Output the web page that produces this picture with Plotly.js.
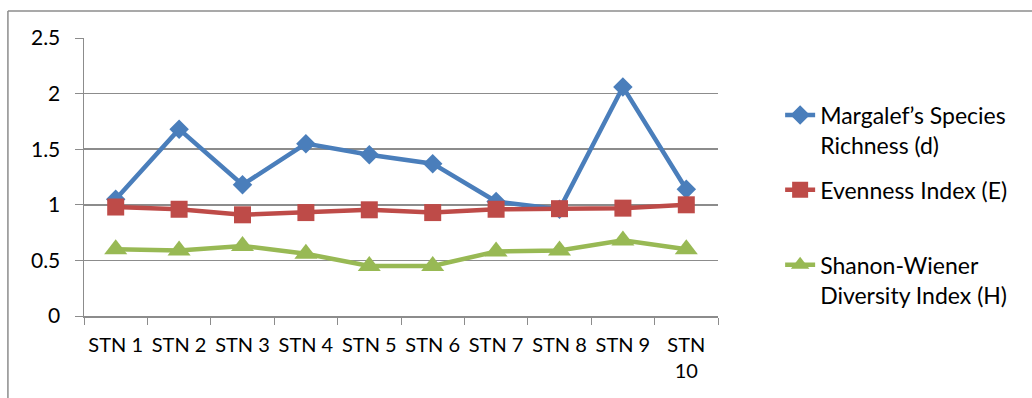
<!DOCTYPE html>
<html>
<head>
<meta charset="utf-8">
<script src="https://cdn.plot.ly/plotly-3.0.1.min.js"></script>
<style>
  html, body { margin: 0; padding: 0; background: #fff; }
  #chart { width: 1032px; height: 398px; }
</style>
</head>
<body>
<div id="chart"></div>
<script>
// Station labels along the x axis
const stations = ['STN 1', 'STN 2', 'STN 3', 'STN 4', 'STN 5', 'STN 6', 'STN 7', 'STN 8', 'STN 9', 'STN 10'];
const stationLabels = ['STN 1', 'STN 2', 'STN 3', 'STN 4', 'STN 5', 'STN 6', 'STN 7', 'STN 8', 'STN 9', 'STN<br>10'];

// Diversity indices per station
const margalef = [1.05, 1.68, 1.18, 1.55, 1.45, 1.37, 1.03, 0.96, 2.06, 1.14];
const evenness = [0.98, 0.96, 0.91, 0.93, 0.955, 0.93, 0.96, 0.965, 0.97, 1.0];
const shannon  = [0.60, 0.59, 0.63, 0.56, 0.45, 0.45, 0.58, 0.59, 0.68, 0.60];

const yTicks = [0, 0.5, 1, 1.5, 2, 2.5];

const FONT = 'Lato, "Open Sans", sans-serif';
const GREY = '#8c8c8c';

const traces = [
  {
    x: stations, y: margalef, name: "Margalef’s Species<br>Richness (d)",
    type: 'scatter', mode: 'lines+markers', legendgroup: 'a',
    line: { color: '#4A7EBB', width: 4.5 },
    marker: { symbol: 'diamond', size: 15, color: '#4A7EBB' }
  },
  {
    x: stations, y: evenness, name: 'Evenness Index (E)<br> ',
    type: 'scatter', mode: 'lines+markers', legendgroup: 'b',
    line: { color: '#BE4B48', width: 4.5 },
    marker: { symbol: 'square', size: 17, color: '#BE4B48' }
  },
  {
    x: stations, y: shannon, name: 'Shanon-Wiener<br>Diversity Index (H)',
    type: 'scatter', mode: 'lines+markers', legendgroup: 'c',
    line: { color: '#98B954', width: 4.5 },
    marker: { symbol: 'triangle-up', size: 20, color: '#98B954' }
  }
];

const layout = {
  width: 1032, height: 398,
  margin: { l: 84, r: 314, t: 38, b: 82 },
  paper_bgcolor: '#fff', plot_bgcolor: '#fff',
  font: { family: FONT, size: 20, color: '#000' },
  showlegend: true,
  legend: {
    x: 1.098, y: 0.80, xanchor: 'left', yanchor: 'top',
    valign: 'top', tracegroupgap: 12,
    font: { family: FONT, size: 23, color: '#000' },
    bgcolor: 'rgba(0,0,0,0)'
  },
  xaxis: {
    type: 'category', range: [-0.5, 9.5],
    tickmode: 'array', tickvals: stations, ticktext: stationLabels,
    tickson: 'boundaries', ticks: 'outside', ticklen: 7, tickcolor: GREY,
    showline: true, linecolor: GREY, linewidth: 1.5, tickangle: 0,
    showgrid: false, zeroline: false, ticklabelstandoff: 10,
    tickfont: { family: FONT, size: 20 }
  },
  yaxis: {
    range: [0, 2.5], tickmode: 'array', tickvals: yTicks,
    ticks: 'outside', ticklen: 8, tickcolor: GREY,
    showline: true, linecolor: GREY, linewidth: 1.5,
    showgrid: true, gridcolor: GREY, gridwidth: 1.5,
    zeroline: false, ticklabelstandoff: 10,
    tickfont: { family: FONT, size: 21 }
  },
  shapes: [
    // outer chart frame (top and left edges)
    { type: 'line', xref: 'paper', yref: 'paper', x0: -0.12, x1: 1.6, y0: 1.097, y1: 1.097,
      line: { color: GREY, width: 1.5 } },
    { type: 'line', xref: 'paper', yref: 'paper', x0: -0.12, x1: -0.12, y0: 1.097, y1: -0.4,
      line: { color: GREY, width: 1.5 } }
  ]
};

Plotly.newPlot('chart', traces, layout, { displayModeBar: false, staticPlot: true });
</script>
</body>
</html>
